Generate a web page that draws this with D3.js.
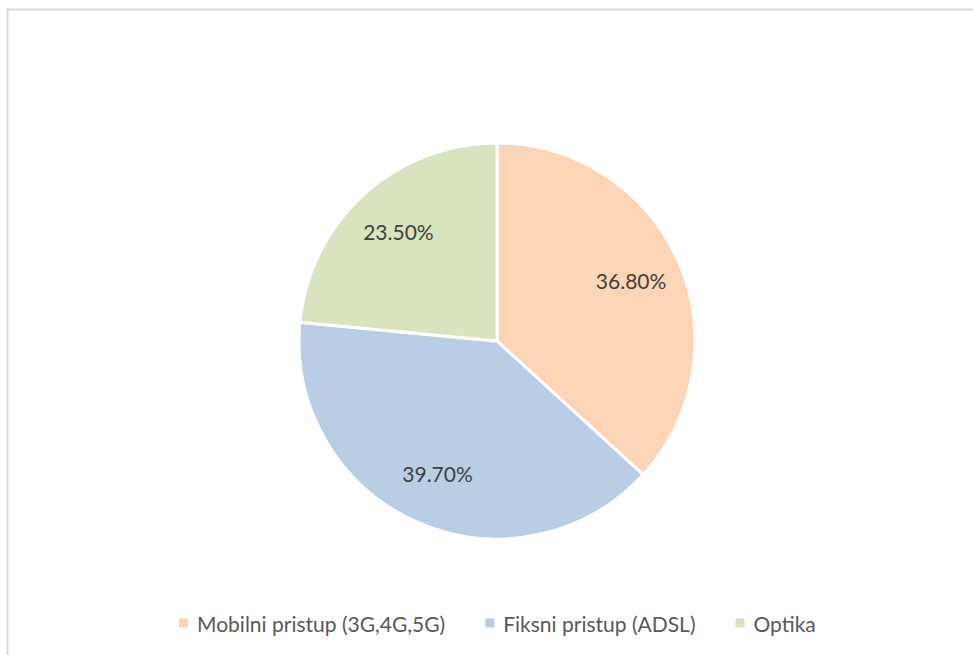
<!DOCTYPE html>
<html>
<head>
<meta charset="utf-8">
<script src="https://cdn.jsdelivr.net/npm/d3@7"></script>
<style>
  body { margin: 0; background: #fff; }
  #chart { width: 973px; height: 655px; }
  text { font-family: Lato, "Open Sans", sans-serif; }
</style>
</head>
<body>
<div id="chart"></div>
<script>
var categories = ["Mobilni pristup (3G,4G,5G)", "Fiksni pristup (ADSL)", "Optika"];
var values = [36.8, 39.7, 23.5];
var colors = ["#fbd5b5", "#b9cde5", "#d7e4bd"];

var width = 973, height = 655;
var cx = 497, cy = 341, radius = 198;

var svg = d3.select("#chart").append("svg")
    .attr("width", width)
    .attr("height", height);

// chart area border (only top/left visible in the crop)
svg.append("rect")
    .attr("x", 7.5)
    .attr("y", 9.5)
    .attr("width", 1000)
    .attr("height", 700)
    .attr("fill", "none")
    .attr("stroke", "#d9d9d9")
    .attr("stroke-width", 2);

var data = categories.map(function(c, i) {
  return { name: c, value: values[i], color: colors[i] };
});

var pie = d3.pie().sort(null).value(function(d) { return d.value; });
var arc = d3.arc().innerRadius(0).outerRadius(radius);
var labelArc = d3.arc().innerRadius(radius * 0.74).outerRadius(radius * 0.74);

var g = svg.append("g").attr("transform", "translate(" + cx + "," + cy + ")");

var slices = g.selectAll("g.slice")
    .data(pie(data))
    .enter().append("g")
    .attr("class", "slice");

slices.append("path")
    .attr("d", arc)
    .attr("fill", function(d) { return d.data.color; })
    .attr("stroke", "#fff")
    .attr("stroke-width", 3);

slices.append("text")
    .attr("transform", function(d) { return "translate(" + labelArc.centroid(d) + ")"; })
    .attr("text-anchor", "middle")
    .attr("dy", "0.35em")
    .attr("fill", "#404040")
    .style("font-size", "21px")
    .text(function(d) { return d.data.value.toFixed(2) + "%"; });

// legend
var legend = svg.append("g").attr("class", "legend");
var items = legend.selectAll("g")
    .data(data)
    .enter().append("g");

items.append("rect")
    .attr("width", 9)
    .attr("height", 9)
    .attr("y", -13.5)
    .attr("fill", function(d) { return d.color; });

items.append("text")
    .attr("x", 18)
    .attr("y", 0)
    .attr("fill", "#595959")
    .style("font-size", "21px")
    .text(function(d) { return d.name; });

var gap = 40;
var xpos = 0;
items.each(function() {
  var w = this.getBBox().width;
  d3.select(this).attr("transform", "translate(" + xpos + ",0)");
  xpos += w + gap;
});
var total = xpos - gap;
legend.attr("transform", "translate(" + Math.round(cx - total / 2) + ",632)");
</script>
</body>
</html>
